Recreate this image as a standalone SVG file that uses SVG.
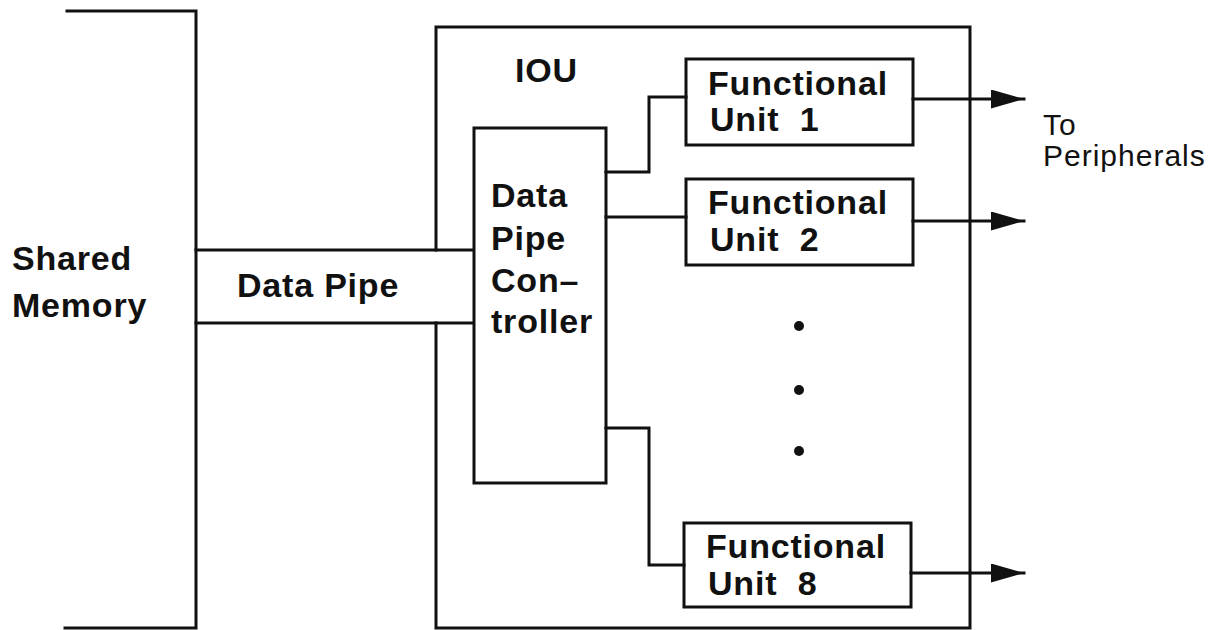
<svg xmlns="http://www.w3.org/2000/svg" width="1225" height="630" viewBox="0 0 1225 630">
<defs>
<style>
.ln{fill:none;stroke:#111;stroke-width:3;stroke-linecap:square}
.bx{fill:#fff;stroke:#111;stroke-width:3}
.b{font-family:"Liberation Sans",Arial,sans-serif;font-weight:bold;font-size:34px;letter-spacing:0.8px;fill:#111}
.r{font-family:"Liberation Sans",Arial,sans-serif;font-size:30px;letter-spacing:1px;fill:#111}
</style>
<marker id="arr" markerWidth="36" markerHeight="20" refX="33" refY="9.5" orient="auto" markerUnits="userSpaceOnUse">
<path d="M0,0 L33,9.5 L0,19 Z" fill="#111"/>
</marker>
</defs>
<rect width="1225" height="630" fill="#fff"/>
<g id="shared-memory">
<path class="ln" d="M67,11 H196 V628 H65"/>
<text class="b" x="12" y="270">Shared</text>
<text class="b" x="12" y="317">Memory</text>
</g>
<g id="data-pipe">
<path class="ln" d="M196,250 H474 M196,323 H474"/>
<text class="b" x="237" y="297">Data Pipe</text>
</g>
<g id="iou">
<path class="ln" d="M436,250 V27 H970 V628 H436 V323"/>
<text class="b" x="515" y="82">IOU</text>
</g>
<g id="controller">
<rect class="bx" x="474" y="128" width="132" height="355"/>
<text class="b" x="491" y="207">Data</text>
<text class="b" x="491" y="250">Pipe</text>
<text class="b" x="491" y="292">Con–</text>
<text class="b" x="491" y="333">troller</text>
</g>
<g id="fu1">
<rect class="bx" x="686" y="59" width="227" height="86"/>
<text class="b" x="708" y="95">Functional</text>
<text class="b" x="710" y="131" xml:space="preserve">Unit  1</text>
</g>
<g id="fu2">
<rect class="bx" x="686" y="179" width="227" height="86"/>
<text class="b" x="708" y="214">Functional</text>
<text class="b" x="710" y="251" xml:space="preserve">Unit  2</text>
</g>
<g id="fu8">
<rect class="bx" x="684" y="523" width="227" height="84"/>
<text class="b" x="706" y="558">Functional</text>
<text class="b" x="708" y="595" xml:space="preserve">Unit  8</text>
</g>
<g id="ellipsis">
<circle cx="799" cy="326" r="5" fill="#111"/>
<circle cx="799" cy="390" r="5" fill="#111"/>
<circle cx="799" cy="451" r="5" fill="#111"/>
</g>
<g id="connectors">
<path class="ln" d="M606,172 H649 V97 H686"/>
<path class="ln" d="M606,217 H686"/>
<path class="ln" d="M606,428 H649 V565 H684"/>
<path class="ln" d="M913,99 H1024" marker-end="url(#arr)"/>
<path class="ln" d="M913,221 H1024" marker-end="url(#arr)"/>
<path class="ln" d="M911,573 H1024" marker-end="url(#arr)"/>
</g>
<g id="peripherals-label">
<text class="r" x="1043" y="135">To</text>
<text class="r" x="1043" y="166">Peripherals</text>
</g>
</svg>
